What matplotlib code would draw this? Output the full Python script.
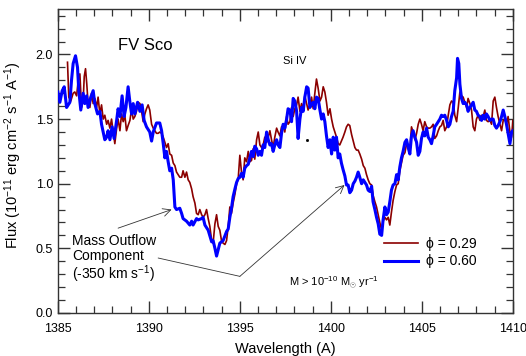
import matplotlib
matplotlib.use("Agg")
import matplotlib.pyplot as plt
from matplotlib.ticker import MultipleLocator

plt.rcParams['font.family'] = ['Liberation Sans', 'DejaVu Sans']
plt.rcParams['mathtext.fontset'] = 'custom'
plt.rcParams['mathtext.rm'] = 'Liberation Sans'
plt.rcParams['mathtext.it'] = 'Liberation Sans:italic'
plt.rcParams['mathtext.bf'] = 'Liberation Sans:bold'

# phi = 0.29 (dark red)
wl_029 = [1385.53, 1385.60, 1385.71, 1385.84, 1385.93, 1386.03, 1386.12, 1386.21, 1386.30, 1386.39,
          1386.45, 1386.52, 1386.59, 1386.66, 1386.76, 1386.85, 1386.94, 1387.03, 1387.13, 1387.21,
          1387.31, 1387.40, 1387.49, 1387.58, 1387.68, 1387.76, 1387.86, 1387.95, 1388.04, 1388.13,
          1388.23, 1388.31, 1388.41, 1388.50, 1388.59, 1388.68, 1388.77, 1388.86, 1388.96, 1389.05,
          1389.14, 1389.23, 1389.32, 1389.41, 1389.51, 1389.60, 1389.69, 1389.78, 1389.87, 1389.96,
          1390.05, 1390.15, 1390.24, 1390.33, 1390.42, 1390.51, 1390.60, 1390.70, 1390.79, 1390.88,
          1390.97, 1391.06, 1391.15, 1391.25, 1391.34, 1391.43, 1391.52, 1391.61, 1391.70, 1391.80,
          1391.88, 1391.98, 1392.07, 1392.16, 1392.25, 1392.35, 1392.43, 1392.53, 1392.62, 1392.71,
          1392.80, 1392.90, 1392.98, 1393.08, 1393.17, 1393.26, 1393.35, 1393.45, 1393.53, 1393.63,
          1393.72, 1393.81, 1393.90, 1393.99, 1394.08, 1394.18, 1394.27, 1394.36, 1394.45, 1394.54,
          1394.63, 1394.73, 1394.82, 1394.91, 1395.00, 1395.09, 1395.18, 1395.27, 1395.37, 1395.46,
          1395.55, 1395.64, 1395.73, 1395.82, 1395.92, 1396.01, 1396.10, 1396.19, 1396.28, 1396.37,
          1396.47, 1396.56, 1396.65, 1396.74, 1396.83, 1396.92, 1397.02, 1397.10, 1397.20, 1397.29,
          1397.38, 1397.47, 1397.57, 1397.65, 1397.75, 1397.84, 1397.93, 1398.02, 1398.12, 1398.20,
          1398.30, 1398.39, 1398.48, 1398.57, 1398.67, 1398.75, 1398.85, 1398.94, 1399.03, 1399.12,
          1399.21, 1399.30, 1399.40, 1399.49, 1399.58, 1399.67, 1399.76, 1399.85, 1399.95, 1400.04,
          1400.13, 1400.22, 1400.31, 1400.40, 1400.49, 1400.58, 1400.67, 1400.77, 1400.86, 1400.95,
          1401.04, 1401.14, 1401.23, 1401.32, 1401.41, 1401.50, 1401.59, 1401.69, 1401.78, 1401.87,
          1401.96, 1402.05, 1402.14, 1402.24, 1402.32, 1402.42, 1402.51, 1402.60, 1402.69, 1402.79,
          1402.87, 1402.97, 1403.06, 1403.15, 1403.24, 1403.33, 1403.42, 1403.52, 1403.61, 1403.70,
          1403.79, 1403.88, 1403.97, 1404.07, 1404.16, 1404.25, 1404.34, 1404.43, 1404.52, 1404.62,
          1404.71, 1404.80, 1404.89, 1404.98, 1405.07, 1405.16, 1405.26, 1405.35, 1405.44, 1405.53,
          1405.62, 1405.71, 1405.81, 1405.90, 1405.99, 1406.08, 1406.17, 1406.26, 1406.36, 1406.45,
          1406.54, 1406.63, 1406.72, 1406.81, 1406.91, 1407.00, 1407.09, 1407.18, 1407.27, 1407.36,
          1407.46, 1407.54, 1407.64, 1407.73, 1407.82, 1407.91, 1408.00, 1408.09, 1408.19, 1408.28,
          1408.37, 1408.46, 1408.55, 1408.64, 1408.74, 1408.83, 1408.92, 1409.01, 1409.10, 1409.19,
          1409.29, 1409.38, 1409.47, 1409.56, 1409.65, 1409.74, 1409.84, 1409.93, 1410.00]
flux_029 = [1.94, 1.67, 1.64, 1.70, 1.71, 1.68, 1.80, 1.85, 1.59, 1.64,
            1.83, 1.89, 1.77, 1.62, 1.59, 1.70, 1.62, 1.66, 1.59, 1.67,
            1.54, 1.61, 1.50, 1.53, 1.46, 1.49, 1.43, 1.50, 1.40, 1.31,
            1.43, 1.50, 1.41, 1.54, 1.48, 1.53, 1.41, 1.45, 1.49, 1.58,
            1.50, 1.52, 1.56, 1.63, 1.62, 1.56, 1.48, 1.54, 1.58, 1.61,
            1.57, 1.46, 1.43, 1.41, 1.39, 1.39, 1.40, 1.39, 1.36, 1.32,
            1.28, 1.31, 1.23, 1.22, 1.16, 1.14, 1.09, 1.07, 1.05, 1.05,
            1.10, 1.05, 1.09, 1.03, 1.01, 0.96, 0.90, 0.85, 0.77, 0.76,
            0.80, 0.76, 0.74, 0.76, 0.80, 0.73, 0.67, 0.56, 0.54, 0.69,
            0.76, 0.67, 0.64, 0.56, 0.54, 0.53, 0.56, 0.67, 0.82, 0.77,
            0.85, 0.92, 1.00, 1.04, 1.22, 1.09, 1.03, 1.20, 1.17, 1.25,
            1.17, 1.18, 1.27, 1.19, 1.34, 1.40, 1.30, 1.28, 1.30, 1.36,
            1.32, 1.36, 1.41, 1.34, 1.28, 1.36, 1.43, 1.40, 1.37, 1.44,
            1.45, 1.40, 1.52, 1.46, 1.48, 1.59, 1.52, 1.58, 1.61, 1.67,
            1.56, 1.62, 1.58, 1.68, 1.62, 1.57, 1.61, 1.67, 1.58, 1.70,
            1.81, 1.74, 1.64, 1.67, 1.75, 1.71, 1.63, 1.53, 1.58, 1.50,
            1.44, 1.40, 1.36, 1.31, 1.30, 1.33, 1.36, 1.40, 1.44, 1.46,
            1.45, 1.38, 1.33, 1.28, 1.26, 1.26, 1.23, 1.19, 1.14, 1.12,
            1.07, 1.03, 1.00, 0.99, 0.91, 0.86, 0.82, 0.76, 0.70, 0.64,
            0.71, 0.74, 0.72, 0.74, 0.68, 0.78, 0.87, 0.94, 0.99, 1.00,
            1.10, 1.16, 1.22, 1.24, 1.31, 1.28, 1.26, 1.44, 1.40, 1.34,
            1.39, 1.46, 1.50, 1.46, 1.41, 1.48, 1.44, 1.43, 1.43, 1.44,
            1.46, 1.35, 1.37, 1.41, 1.44, 1.45, 1.49, 1.41, 1.44, 1.53,
            1.61, 1.64, 1.63, 1.53, 1.48, 1.59, 1.71, 1.68, 1.67, 1.63,
            1.59, 1.66, 1.62, 1.57, 1.44, 1.41, 1.50, 1.53, 1.49, 1.53,
            1.52, 1.57, 1.49, 1.48, 1.49, 1.46, 1.64, 1.67, 1.59, 1.52,
            1.46, 1.41, 1.49, 1.50, 1.46, 1.52, 1.40, 1.36, 1.49]

# phi = 0.60 (blue)
wl_060 = [1385.00, 1385.11, 1385.24, 1385.35, 1385.48, 1385.66, 1385.75, 1385.84, 1385.97, 1386.08,
          1386.15, 1386.26, 1386.39, 1386.48, 1386.58, 1386.66, 1386.81, 1386.94, 1387.03, 1387.18,
          1387.31, 1387.40, 1387.49, 1387.58, 1387.68, 1387.76, 1387.86, 1387.98, 1388.09, 1388.23,
          1388.31, 1388.41, 1388.53, 1388.64, 1388.74, 1388.86, 1388.96, 1389.05, 1389.14, 1389.23,
          1389.38, 1389.51, 1389.63, 1389.74, 1389.87, 1390.05, 1390.15, 1390.24, 1390.42, 1390.60,
          1390.70, 1390.79, 1390.88, 1390.97, 1391.06, 1391.15, 1391.25, 1391.34, 1391.43, 1391.52,
          1391.70, 1391.80, 1391.88, 1392.07, 1392.25, 1392.35, 1392.43, 1392.62, 1392.71, 1392.90,
          1392.98, 1393.08, 1393.26, 1393.45, 1393.53, 1393.63, 1393.72, 1393.81, 1393.90, 1394.08,
          1394.27, 1394.36, 1394.45, 1394.54, 1394.63, 1394.73, 1394.82, 1394.91, 1395.00, 1395.09,
          1395.18, 1395.27, 1395.37, 1395.46, 1395.55, 1395.64, 1395.73, 1395.82, 1395.92, 1396.01,
          1396.10, 1396.19, 1396.28, 1396.37, 1396.47, 1396.56, 1396.65, 1396.74, 1396.83, 1396.92,
          1397.02, 1397.10, 1397.20, 1397.29, 1397.38, 1397.47, 1397.57, 1397.65, 1397.75, 1397.84,
          1397.93, 1398.02, 1398.12, 1398.20, 1398.30, 1398.39, 1398.48, 1398.57, 1398.67, 1398.75,
          1398.85, 1398.94, 1399.03, 1399.12, 1399.21, 1399.30, 1399.40, 1399.49, 1399.58, 1399.67,
          1399.76, 1399.85, 1399.95, 1400.04, 1400.13, 1400.22, 1400.31, 1400.40, 1400.49, 1400.58,
          1400.67, 1400.77, 1400.86, 1400.95, 1401.04, 1401.14, 1401.23, 1401.32, 1401.41, 1401.50,
          1401.59, 1401.69, 1401.78, 1401.96, 1402.05, 1402.14, 1402.24, 1402.32, 1402.42, 1402.51,
          1402.60, 1402.69, 1402.79, 1402.87, 1402.97, 1403.06, 1403.15, 1403.24, 1403.33, 1403.42,
          1403.52, 1403.61, 1403.70, 1403.79, 1403.88, 1403.97, 1404.07, 1404.16, 1404.25, 1404.34,
          1404.43, 1404.52, 1404.62, 1404.71, 1404.80, 1404.89, 1404.98, 1405.07, 1405.16, 1405.26,
          1405.35, 1405.44, 1405.53, 1405.62, 1405.71, 1405.81, 1405.90, 1405.99, 1406.08, 1406.17,
          1406.26, 1406.36, 1406.45, 1406.54, 1406.63, 1406.72, 1406.81, 1406.91, 1406.96, 1407.03,
          1407.09, 1407.18, 1407.27, 1407.36, 1407.46, 1407.54, 1407.64, 1407.73, 1407.82, 1407.91,
          1408.00, 1408.09, 1408.19, 1408.28, 1408.37, 1408.46, 1408.55, 1408.64, 1408.74, 1408.83,
          1408.92, 1409.01, 1409.10, 1409.19, 1409.29, 1409.38, 1409.47, 1409.56, 1409.65, 1409.74,
          1409.84, 1409.93, 1410.00]
flux_060 = [1.71, 1.63, 1.72, 1.75, 1.59, 1.63, 1.80, 1.93, 1.99, 1.90,
            1.72, 1.57, 1.70, 1.62, 1.68, 1.59, 1.67, 1.72, 1.62, 1.54,
            1.56, 1.46, 1.40, 1.34, 1.36, 1.41, 1.34, 1.44, 1.35, 1.49,
            1.58, 1.52, 1.68, 1.52, 1.59, 1.75, 1.63, 1.54, 1.62, 1.54,
            1.63, 1.56, 1.61, 1.49, 1.44, 1.40, 1.33, 1.40, 1.47, 1.47,
            1.41, 1.31, 1.20, 1.25, 1.17, 1.10, 1.12, 1.03, 0.82, 0.80,
            0.81, 0.77, 0.73, 0.71, 0.68, 0.71, 0.68, 0.73, 0.72, 0.73,
            0.74, 0.68, 0.64, 0.55, 0.56, 0.50, 0.44, 0.49, 0.54, 0.56,
            0.63, 0.65, 0.74, 0.81, 0.90, 0.96, 1.01, 1.04, 1.05, 1.08,
            1.05, 1.12, 1.14, 1.15, 1.20, 1.25, 1.21, 1.29, 1.27, 1.22,
            1.25, 1.22, 1.30, 1.28, 1.40, 1.34, 1.30, 1.31, 1.25, 1.30,
            1.34, 1.30, 1.28, 1.39, 1.46, 1.43, 1.50, 1.58, 1.57, 1.48,
            1.66, 1.64, 1.56, 1.35, 1.50, 1.59, 1.56, 1.67, 1.75, 1.74,
            1.59, 1.62, 1.63, 1.58, 1.67, 1.66, 1.57, 1.50, 1.54, 1.48,
            1.37, 1.28, 1.34, 1.23, 1.36, 1.26, 1.36, 1.20, 1.23, 1.16,
            1.11, 1.06, 0.99, 0.99, 0.93, 0.95, 1.00, 1.02, 1.05, 1.09,
            1.05, 1.00, 1.03, 0.99, 0.95, 0.94, 0.98, 0.86, 0.80, 0.74,
            0.69, 0.61, 0.60, 0.72, 0.82, 0.76, 0.78, 0.86, 0.95, 0.99,
            1.00, 1.07, 1.03, 1.13, 1.20, 1.25, 1.32, 1.34, 1.28, 1.23,
            1.37, 1.41, 1.36, 1.32, 1.22, 1.25, 1.35, 1.40, 1.37, 1.43,
            1.36, 1.34, 1.31, 1.37, 1.44, 1.46, 1.48, 1.50, 1.53, 1.52,
            1.53, 1.49, 1.44, 1.46, 1.52, 1.56, 1.72, 1.82, 1.97, 1.93,
            1.77, 1.66, 1.62, 1.63, 1.61, 1.56, 1.59, 1.61, 1.63, 1.57,
            1.56, 1.53, 1.52, 1.49, 1.53, 1.50, 1.54, 1.52, 1.49, 1.50,
            1.50, 1.45, 1.43, 1.45, 1.48, 1.52, 1.57, 1.52, 1.46, 1.39,
            1.31, 1.40, 1.41]

labels = ['\u03d5 = 0.29', '\u03d5 = 0.60']
x_ticks = [1385, 1390, 1395, 1400, 1405, 1410]
y_ticks = [0.0, 0.5, 1.0, 1.5, 2.0]

fig = plt.figure(figsize=(5.26, 3.56), dpi=100)
ax = fig.add_axes([0.110, 0.121, 0.865, 0.853])

ax.plot(wl_029, flux_029, color='#8b0000', lw=1.2, label=labels[0], zorder=3)
ax.plot(wl_060, flux_060, color='#0000ff', lw=2.2, label=labels[1], zorder=4)

ax.set_xlim(1385, 1410)
ax.set_ylim(0, 2.35)
ax.set_xticks(x_ticks)
ax.set_xticklabels([str(t) for t in x_ticks])
ax.set_yticks(y_ticks)
ax.set_yticklabels([f'{t:.1f}' for t in y_ticks])
ax.xaxis.set_minor_locator(MultipleLocator(1))
ax.yaxis.set_minor_locator(MultipleLocator(0.1))
ax.tick_params(which='both', direction='in', top=True, right=True, labelsize=9, color='#333333')
ax.tick_params(which='major', length=8.4, width=1.0)
ax.tick_params(which='minor', length=4.8, width=0.9)
ax.tick_params(axis='x', pad=7.5)
for s in ax.spines.values():
    s.set_color('#333333')
    s.set_linewidth(1.0)

ax.set_xlabel('Wavelength (A)', fontsize=10.5, labelpad=5)
ax.set_ylabel('Flux (10$^{-11}$ erg cm$^{-2}$ s$^{-1}$ A$^{-1}$)', fontsize=10.5, labelpad=5)
ax.yaxis.set_label_coords(-0.075, 0.52)

ax.text(1389.8, 2.07, 'FV Sco', fontsize=12, ha='center', va='center')
ax.text(1398.0, 1.95, 'Si IV', fontsize=8, ha='center', va='center')
ax.plot([1398.67], [1.34], marker='s', ms=1.0, color='k', zorder=5)

ax.text(1385.8, 0.41, 'Mass Outflow\nComponent\n(-350 km s$^{-1}$)', fontsize=10,
        ha='left', va='center', linespacing=1.05)
ax.text(1397.7, 0.23, 'M > 10$^{-10}$ M$_{\\odot}$ yr$^{-1}$', fontsize=8, ha='left', va='center')

arrow = dict(arrowstyle='->', color='#333333', lw=0.6, shrinkA=0, shrinkB=0,
             mutation_scale=14)
ax.annotate('', xy=(1391.25, 0.80), xytext=(1388.31, 0.656), arrowprops=arrow)
ax.annotate('', xy=(1400.75, 0.99), xytext=(1395.0, 0.283), arrowprops=arrow)
ax.annotate('', xy=(1395.0, 0.283), xytext=(1390.51, 0.425),
            arrowprops=dict(arrowstyle='-', color='#333333', lw=0.6, shrinkA=0, shrinkB=0))

ax.legend(loc='upper left', bbox_to_anchor=(0.716, 0.25), frameon=False, fontsize=10,
          handlelength=2.5, handletextpad=0.55, labelspacing=0.25, borderaxespad=0,
          borderpad=0)

fig.savefig('out.png', dpi=100)
